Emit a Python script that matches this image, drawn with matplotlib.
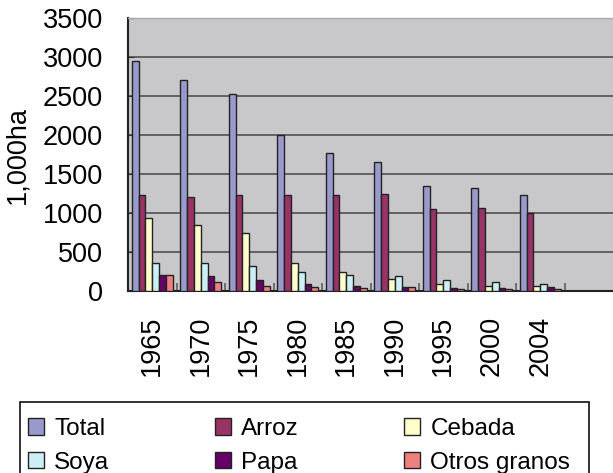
import matplotlib
matplotlib.use("Agg")
import matplotlib.pyplot as plt
from matplotlib.patches import Rectangle
import numpy as np

years = ["1965", "1970", "1975", "1980", "1985", "1990", "1995", "2000", "2004"]
series_names = ["Total", "Arroz", "Cebada", "Soya", "Papa", "Otros granos"]
total = [2950, 2700, 2520, 2000, 1770, 1650, 1340, 1320, 1230]
arroz = [1230, 1205, 1230, 1230, 1230, 1250, 1050, 1070, 1000]
cebada = [930, 840, 750, 360, 250, 160, 95, 70, 70]
soya = [360, 360, 320, 250, 205, 190, 140, 115, 95]
papa = [205, 190, 140, 90, 70, 50, 40, 40, 45]
otros = [205, 115, 70, 45, 40, 45, 30, 25, 20]
colors = ["#9999CC", "#993366", "#FFFFCC", "#CCEEF5", "#660066", "#F08080"]

plt.rcParams['font.family'] = ['Liberation Sans', 'DejaVu Sans']

fig = plt.figure(figsize=(6.13, 4.73), dpi=100)
W, H = 613, 473
ax = fig.add_axes([128 / W, 1 - 291 / H, (613 - 128) / W, (291 - 18) / H])
ax.set_facecolor("#C8C8CA")

data = [total, arroz, cebada, soya, papa, otros]
x = np.arange(len(years))
bw = 0.14
handles = []
for k, (vals, c, name) in enumerate(zip(data, colors, series_names)):
    b = ax.bar(x + (k - 2.5) * bw, vals, width=bw, color=c, edgecolor="#222222",
               linewidth=1.0, label=name, zorder=3)
    handles.append(b)

ax.set_xlim(-0.5, 9.5)
ax.set_ylim(0, 3500)
ax.set_yticks(np.arange(0, 3501, 500))
ax.yaxis.grid(True, color="#505050", linewidth=1.2, zorder=1)
ax.set_axisbelow(True)

ax.set_xticks(x)
ax.set_xticklabels(years, rotation=90, fontsize=19.5)
ax.set_xticks(np.arange(0.5, 9, 1), minor=True)
ax.tick_params(axis="x", which="major", length=0, pad=18)
ax.tick_params(axis="x", which="minor", length=6, direction="in", color="#606060", width=1.2)
ax.tick_params(axis="y", which="major", length=4, direction="in", pad=18, labelsize=19.5,
               color="#333333")
ylab = ax.set_ylabel("1,000ha")
ylab.set_fontsize(19.5)
ax.yaxis.set_label_coords(-98 / 485, 0.5)

for s in ["left", "bottom"]:
    ax.spines[s].set_color("#222222")
    ax.spines[s].set_linewidth(1.5)
ax.spines["top"].set_color("#A8A8A8")
ax.spines["top"].set_linewidth(1.0)
ax.spines["right"].set_visible(False)

# legend frame
fig.patches.append(Rectangle((20 / W, -0.05), (589 - 20) / W, 0.05 + 1 - 402 / H,
                             transform=fig.transFigure, fill=False,
                             edgecolor="#111111", linewidth=1.2))

order = [0, 3, 1, 4, 2, 5]
leg = fig.legend(handles=[handles[i] for i in order],
                 labels=[series_names[i] for i in order], ncol=3, loc="upper left",
                 bbox_to_anchor=(28 / W, 1 - 418 / H), frameon=False,
                 fontsize=17.5, handlelength=0.65, handleheight=0.65,
                 handletextpad=0.42, columnspacing=4.35, labelspacing=0.48,
                 borderpad=0, borderaxespad=0)

fig.savefig("out.png", dpi=100)
